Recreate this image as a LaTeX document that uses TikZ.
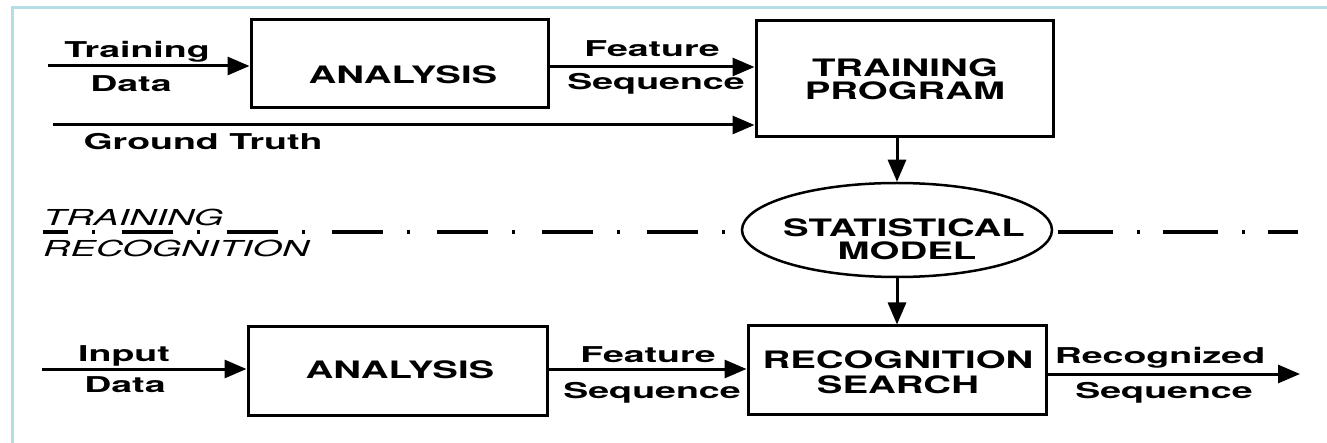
\documentclass[tikz,border=0pt]{standalone}
\usepackage{fontspec}
\usetikzlibrary{arrows.meta,shapes.geometric}
\newfontfamily\hvbox{TeX Gyre Heros}[FakeStretch=1.6]
\newfontfamily\hvlab{TeX Gyre Heros}[FakeStretch=1.72]
\definecolor{framecol}{RGB}{180,222,228}
\begin{document}
\begin{tikzpicture}[x=1pt,y=-1pt,
  box/.style={draw,line width=3pt,inner sep=0pt,minimum width=297pt},
  oval/.style={draw,ellipse,line width=2.5pt,inner sep=0pt,minimum width=310pt,minimum height=94pt},
  btxt/.style={anchor=base,inner sep=0pt,font=\hvbox\bfseries\fontsize{24}{24}\selectfont},
  ltxt/.style={anchor=base,inner sep=0pt,font=\hvlab\bfseries\fontsize{21.8}{24}\selectfont},
  itxt/.style={anchor=base west,inner sep=0pt,font=\hvlab\itshape\fontsize{22}{24}\selectfont},
  conn/.style={line width=3pt,-{Triangle[length=22pt,width=18pt]}},
  dashdot/.style={line width=4pt,dash pattern=on 51pt off 24pt on 3pt off 27pt,dash phase=26pt}]
\useasboundingbox (0,0) rectangle (1327,443);
% frame
\draw[framecol,line width=2.5pt] (12.5,443) -- (12.5,7.5) -- (1327,7.5);
% boxes
\node[box,minimum height=88pt] (an1) at (399.5,64) {};
\node[box,minimum height=116pt] (tp) at (904.5,79) {};
\node[oval] (sm) at (897,230) {};
\node[box,minimum width=299pt,minimum height=88pt] (an2) at (397.5,371) {};
\node[box,minimum width=298pt,minimum height=88pt] (rs) at (897,370) {};
% box texts
\node[btxt] (an1t) at (403,84) {ANALYSIS};
\node[btxt] (tpt1) at (905,77) {TRAINING};
\node[btxt] (tpt2) at (905,100) {PROGRAM};
\node[btxt] (smt1) at (904,237) {STATISTICAL};
\node[btxt] (smt2) at (907,260) {MODEL};
\node[btxt] (an2t) at (400,378) {ANALYSIS};
\node[btxt] (rst1) at (898,368) {RECOGNITION};
\node[btxt] (rst2) at (898,393) {SEARCH};
% labels
\node[ltxt] (l1) at (137,58) {Training};
\node[ltxt] (l2) at (131,92) {Data};
\node[ltxt] (l3) at (203,150) {Ground Truth};
\node[ltxt] (l4) at (652,57) {Feature};
\node[ltxt] (l5) at (656,90) {Sequence};
\node[ltxt] (l6) at (124,361) {Input};
\node[ltxt] (l7) at (125,392) {Data};
\node[ltxt] (l8) at (648,362) {Feature};
\node[ltxt] (l9) at (652,398) {Sequence};
\node[ltxt] (l10) at (1160,363) {Recognized};
\node[ltxt] (l11) at (1164,398) {Sequence};
\node[itxt] (tr) at (43,226) {TRAINING};
\node[itxt] (rc) at (43,257) {RECOGNITION};
% coordinates
\coordinate (tdin) at (48,66);
\coordinate (gtin) at (53,125);
\coordinate (idin) at (42,369);
\coordinate (rsout) at (1300,374);
\coordinate (dl) at (43,232);
\coordinate (dr) at (1298,232);
\coordinate (drs) at (1058,232);
% connectors
\draw[conn] (tdin) -- (tdin -| an1.west);
\draw[conn] (an1.east |- 0,67) -- (tp.west |- 0,67);
\draw[conn] (gtin) -- (gtin -| tp.west);
\draw[conn] (sm.north |- tp.south) -- (sm.north);
\draw[conn] (sm.south) -- (rs.north);
\draw[conn] (idin) -- (idin -| an2.west);
\draw[conn] (an2.east |- 0,369) -- (rs.west |- 0,369);
\draw[conn] (rs.east |- rsout) -- (rsout);
% separator
\draw[dashdot] (dl) -- (dl -| sm.west);
\draw[line width=4pt,dash pattern=on 55pt off 24pt on 3pt off 23pt] (drs) -- (dr);
\end{tikzpicture}
\end{document}
